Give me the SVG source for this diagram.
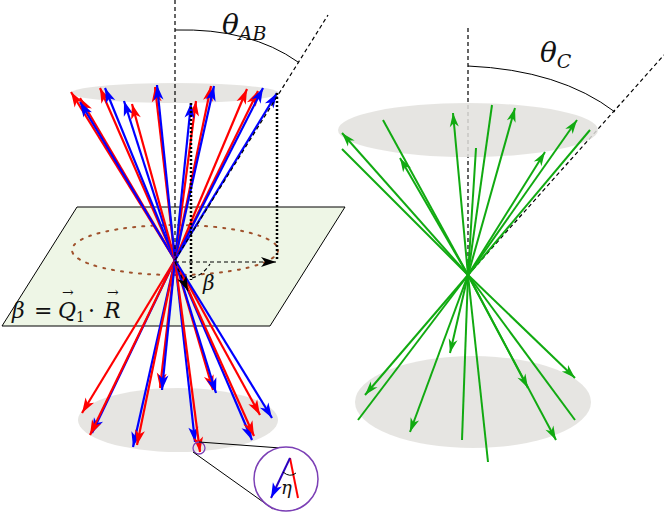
<svg xmlns="http://www.w3.org/2000/svg" width="664" height="513" viewBox="0 0 664 513">
<defs>
<style>
.r{stroke:#f00;stroke-width:2.2;fill:none;marker-end:url(#mr)}
.b{stroke:#00f;stroke-width:2.2;fill:none;marker-end:url(#mb)}
.g{stroke:#1a1;stroke-width:2;fill:none;marker-end:url(#mg)}
.gl{stroke:#1a1;stroke-width:2;fill:none}
.ell{fill:#e2e1dd;opacity:0.85}
.dash{stroke:#000;stroke-width:1.2;stroke-dasharray:4,3;fill:none}
.t{font-family:"DejaVu Serif","Liberation Serif",serif;font-style:italic;fill:#111}
.n{font-family:"DejaVu Serif","Liberation Serif",serif;fill:#111}
</style>
<marker id="mr" refX="15" refY="5" markerWidth="16" markerHeight="10" markerUnits="userSpaceOnUse" orient="auto" overflow="visible"><path d="M0,0 L15,5 L0,10 L4,5z" fill="#f00"/></marker>
<marker id="mb" refX="15" refY="5" markerWidth="16" markerHeight="10" markerUnits="userSpaceOnUse" orient="auto" overflow="visible"><path d="M0,0 L15,5 L0,10 L4,5z" fill="#00f"/></marker>
<marker id="mg" refX="14" refY="4.5" markerWidth="15" markerHeight="9" markerUnits="userSpaceOnUse" orient="auto" overflow="visible"><path d="M0,0 L14,4.5 L0,9 L4,4.5z" fill="#1a1"/></marker>
<marker id="mk" refX="15" refY="5" markerWidth="16" markerHeight="10" markerUnits="userSpaceOnUse" orient="auto" overflow="visible"><path d="M0,0 L15,5 L0,10 L4,5z" fill="#000"/></marker>
</defs>
<g id="left-cone">
<ellipse class="ell" cx="175" cy="93" rx="104" ry="10"/>
<ellipse class="ell" cx="178" cy="420" rx="100" ry="32"/>
<polygon id="plane" points="77,207 345,207 270,326 2,326" fill="#eef6e6" stroke="#000" stroke-width="1"/>
<ellipse cx="175" cy="250" rx="103" ry="25" fill="none" stroke="#a0522d" stroke-width="2" stroke-dasharray="2,7" stroke-linecap="round"/>
<text class="t" x="12" y="318" font-size="22">β</text>
<text class="n" x="34" y="318" font-size="22">=</text>
<text class="t" x="58" y="318" font-size="22">Q</text>
<text class="n" x="76" y="322" font-size="14">1</text>
<text class="n" x="88" y="318" font-size="22">·</text>
<text class="t" x="104" y="318" font-size="22">R</text>
<text class="n" x="62" y="297" font-size="14">→</text>
<text class="n" x="107" y="297" font-size="14">→</text>
</g>
<g id="connectors">
<g>
<line class="r" x1="175" y1="260" x2="71" y2="92"/>
<line class="r" x1="175" y1="260" x2="80" y2="98"/>
<line class="b" x1="175" y1="260" x2="80" y2="102"/>
<line class="r" x1="175" y1="260" x2="100" y2="88"/>
<line class="b" x1="175" y1="260" x2="105" y2="88"/>
<line class="b" x1="175" y1="260" x2="124" y2="101"/>
<line class="r" x1="175" y1="260" x2="132" y2="104"/>
<line class="r" x1="175" y1="260" x2="155" y2="87"/>
<line class="b" x1="175" y1="260" x2="157" y2="85"/>
<line class="r" x1="175" y1="260" x2="196" y2="101"/>
<line class="b" x1="175" y1="260" x2="191" y2="103"/>
<line class="r" x1="175" y1="260" x2="211" y2="86"/>
<line class="b" x1="175" y1="260" x2="214" y2="86"/>
<line class="r" x1="175" y1="260" x2="247" y2="89"/>
<line class="r" x1="175" y1="260" x2="258" y2="91"/>
<line class="b" x1="175" y1="260" x2="263" y2="88"/>
<line class="b" x1="175" y1="260" x2="277" y2="93"/>
<line class="r" x1="175" y1="260" x2="82" y2="413"/>
<line class="b" x1="175" y1="260" x2="92" y2="433"/>
<line class="r" x1="175" y1="260" x2="90" y2="435"/>
<line class="b" x1="175" y1="260" x2="133" y2="447"/>
<line class="r" x1="175" y1="260" x2="137" y2="445"/>
<line class="r" x1="175" y1="260" x2="160" y2="388"/>
<line class="b" x1="175" y1="260" x2="162" y2="390"/>
<line class="b" x1="175" y1="260" x2="195" y2="442"/>
<line class="r" x1="175" y1="260" x2="200" y2="452"/>
<line class="r" x1="175" y1="260" x2="213" y2="390"/>
<line class="b" x1="175" y1="260" x2="216" y2="393"/>
<line class="b" x1="175" y1="260" x2="252" y2="440"/>
<line class="r" x1="175" y1="260" x2="254" y2="436"/>
<line class="r" x1="175" y1="260" x2="260" y2="415"/>
<line class="b" x1="175" y1="260" x2="272" y2="418"/>
</g>
<line class="dash" x1="175" y1="0" x2="175" y2="260"/>
<line class="dash" x1="175" y1="260" x2="328" y2="15"/>
<path d="M175,30 Q250,28 298,62" fill="none" stroke="#000" stroke-width="1"/>
<line x1="277" y1="93" x2="277" y2="260" stroke="#000" stroke-width="2.5" stroke-dasharray="2,2"/>
<line x1="191" y1="103" x2="191" y2="280" stroke="#000" stroke-width="2.5" stroke-dasharray="2,2"/>
<line class="dash" x1="175" y1="262" x2="276" y2="262" stroke-width="1.8" marker-end="url(#mk)"/>
<line class="dash" x1="175" y1="262" x2="188" y2="291" stroke-width="1.8" marker-end="url(#mk)"/>
<path d="M192,278 Q203,275 210,264" class="dash"/>
<line class="dash" x1="468" y1="28" x2="468" y2="275"/>
<line class="dash" x1="468" y1="275" x2="664" y2="55"/>
<path d="M468,66 Q560,70 615,112" fill="none" stroke="#000" stroke-width="1"/>
</g>
<g id="right-cone">
<ellipse class="ell" cx="468" cy="130" rx="130" ry="27"/>
<ellipse class="ell" cx="473" cy="402" rx="118" ry="46"/>
<line class="g" x1="468" y1="275" x2="342" y2="133"/>
<line class="gl" x1="468" y1="275" x2="342" y2="149"/>
<line class="g" x1="468" y1="275" x2="400" y2="158"/>
<line class="gl" x1="468" y1="275" x2="383" y2="120"/>
<line class="g" x1="468" y1="275" x2="453" y2="113"/>
<line class="gl" x1="468" y1="275" x2="476" y2="148"/>
<line class="gl" x1="468" y1="275" x2="492" y2="105"/>
<line class="g" x1="468" y1="275" x2="515" y2="108"/>
<line class="g" x1="468" y1="275" x2="545" y2="152"/>
<line class="g" x1="468" y1="275" x2="577" y2="120"/>
<line class="gl" x1="468" y1="275" x2="590" y2="130"/>
<line class="g" x1="468" y1="275" x2="365" y2="395"/>
<line class="gl" x1="468" y1="275" x2="358" y2="420"/>
<line class="g" x1="468" y1="275" x2="410" y2="432"/>
<line class="g" x1="468" y1="275" x2="450" y2="353"/>
<line class="gl" x1="468" y1="275" x2="462" y2="440"/>
<line class="gl" x1="468" y1="275" x2="488" y2="462"/>
<line class="g" x1="468" y1="275" x2="528" y2="388"/>
<line class="g" x1="468" y1="275" x2="556" y2="440"/>
<line class="g" x1="468" y1="275" x2="575" y2="378"/>
<line class="gl" x1="468" y1="275" x2="575" y2="420"/>
</g>
<g id="labels">
<text class="t" x="222" y="34" font-size="28">θ<tspan font-size="19" dy="6">AB</tspan></text>
<text class="t" x="540" y="62" font-size="28">θ<tspan font-size="19" dy="6">C</tspan></text>
<text class="t" x="203" y="290" font-size="20">β</text>
</g>
<g id="magnifier">
<circle cx="199" cy="448" r="6" fill="none" stroke="#7b3fb5" stroke-width="1.3"/>
<line x1="199" y1="442" x2="294" y2="449" stroke="#000" stroke-width="1"/>
<line x1="193" y1="452" x2="273" y2="509" stroke="#000" stroke-width="1"/>
<circle cx="286" cy="479" r="32" fill="#fff" stroke="#7b3fb5" stroke-width="1.5"/>
<line x1="290" y1="458" x2="298" y2="498" stroke="#f00" stroke-width="2"/>
<line x1="290" y1="458" x2="271" y2="498" stroke="#2a00c0" stroke-width="2" marker-end="url(#mb)"/>
<path d="M283,472 Q290,478 296,473" fill="none" stroke="#000" stroke-width="1"/>
<text class="t" x="281" y="494" font-size="18">η</text>
</g>
</svg>
